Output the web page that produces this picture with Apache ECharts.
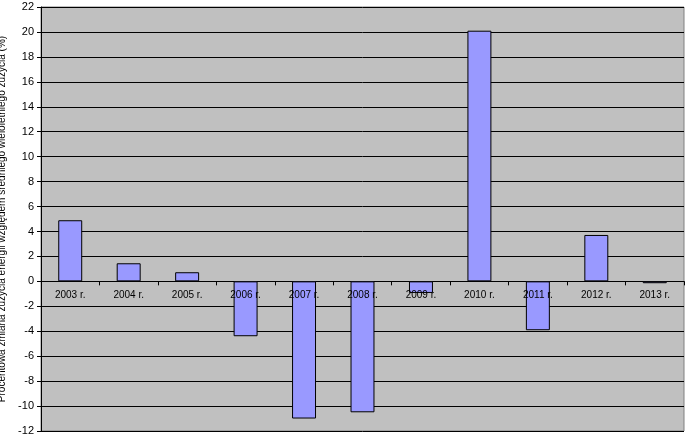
<!DOCTYPE html>
<html><head><meta charset="utf-8">
<script src="https://cdn.jsdelivr.net/npm/echarts@6/dist/echarts.min.js"></script>
<style>html,body{margin:0;padding:0;background:#fff}#c{width:689px;height:438px}</style>
</head><body><div id="c"></div>
<script>
const categories = ['2003 r.','2004 r.','2005 r.','2006 r.','2007 r.','2008 r.','2009 r.','2010 r.','2011 r.','2012 r.','2013 r.'];
const values = [4.9, 1.45, 0.73, -4.4, -11.0, -10.5, -0.93, 20.1, -3.92, 3.72, -0.15];
const yTitle = 'Procentowa zmiana zużycia energii względem średniego wieloletniego zużycia (%)';

// zero-height helper marks that carry the category labels just below the zero line
const labelAnchors = categories.map(() => 0);

const chart = echarts.init(document.getElementById('c'));
chart.setOption({
  animation: false,
  backgroundColor: '#ffffff',
  textStyle: { fontFamily: 'Liberation Sans, Arial, sans-serif' },
  grid: { left: 41, right: 5, top: 7, bottom: 7, containLabel: false, outerBoundsMode: 'none', show: true, backgroundColor: '#C0C0C0', borderColor: '#808080', borderWidth: 1 },
  xAxis: {
    type: 'category', data: categories,
    axisLine: { onZero: true, lineStyle: { color: '#000', width: 1 } },
    axisTick: { show: true, alignWithLabel: false, length: 4, lineStyle: { color: '#000' } },
    axisLabel: { show: false },
    splitLine: { show: false }
  },
  yAxis: {
    type: 'value', min: -12, max: 22, interval: 2,
    name: yTitle, nameLocation: 'middle', nameRotate: 90, nameGap: 33,
    nameTextStyle: { color: '#000', fontSize: 10 },
    axisLine: { show: true, lineStyle: { color: '#000' } },
    axisTick: { show: true, length: 4, lineStyle: { color: '#000' } },
    axisLabel: { color: '#000', fontSize: 11, margin: 7 },
    splitLine: { show: true, lineStyle: { color: '#000', width: 1 } }
  },
  series: [{
    type: 'bar', data: values, barWidth: '41%', z: 2,
    itemStyle: { color: '#9999FF', borderColor: '#000', borderWidth: 1 }
  }, {
    type: 'bar', data: labelAnchors, barWidth: '41%', barGap: '-100%', z: 5,
    itemStyle: { color: 'rgba(0,0,0,0)', borderWidth: 0 },
    label: { show: true, position: 'bottom', distance: 9, formatter: '{b}', color: '#000', fontSize: 10 },
    silent: true
  }]
});
</script></body></html>
